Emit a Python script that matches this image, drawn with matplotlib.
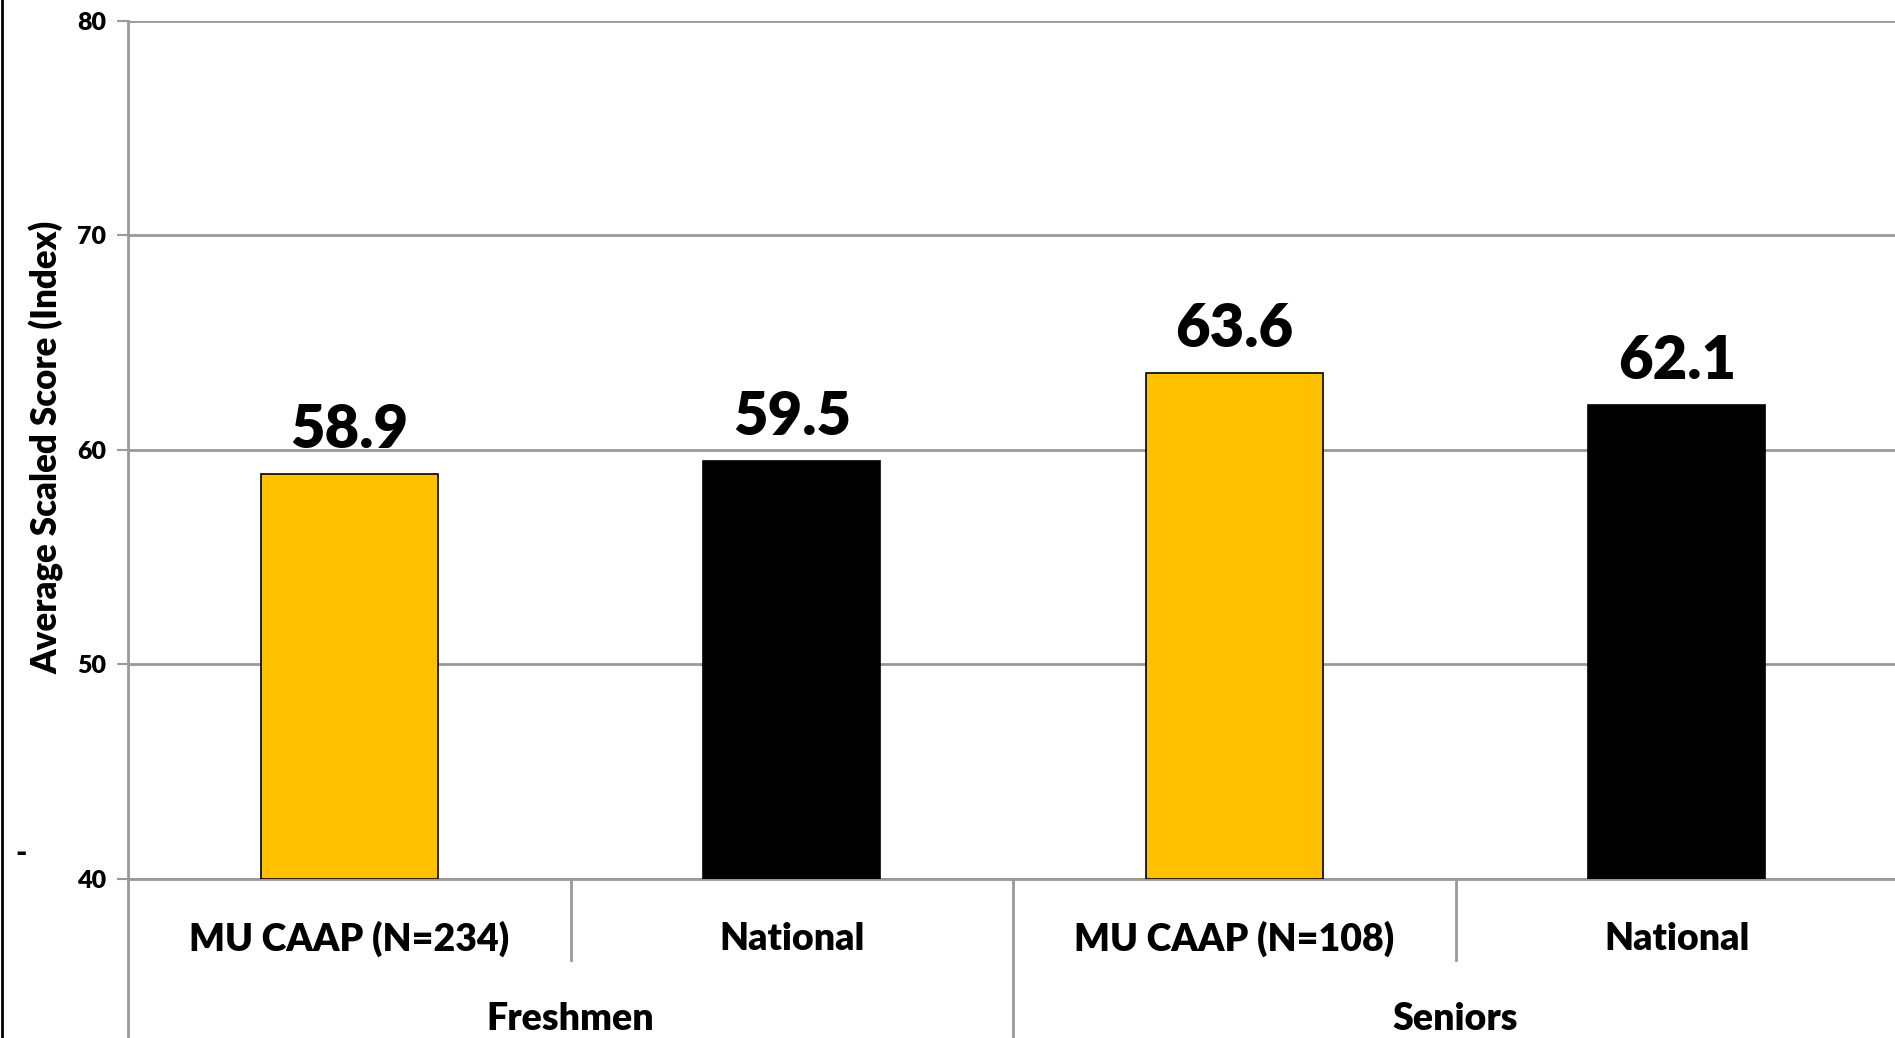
import matplotlib
matplotlib.use("Agg")
import matplotlib.pyplot as plt
from matplotlib.transforms import blended_transform_factory
from matplotlib.lines import Line2D

categories = ["MU CAAP (N=234)", "National", "MU CAAP (N=108)", "National"]
groups = ["Freshmen", "Seniors"]
values = [58.9, 59.5, 63.6, 62.1]
colors = ["#FFC000", "#000000", "#FFC000", "#000000"]
yticks = [40, 50, 60, 70, 80]

plt.rcParams['font.family'] = ['Lato', 'DejaVu Sans']
plt.rcParams['font.weight'] = 'bold'

W, H = 1895, 1038
fig = plt.figure(figsize=(W/100, H/100), dpi=100)
ax = fig.add_axes([128/W, 1-879/H, 1770/W, 858/H])

x = list(range(len(categories)))
bars = ax.bar(x, [v - 40 for v in values], bottom=40, width=0.4, color=colors,
              edgecolor='black', linewidth=1.2, zorder=3)
for xi, v in zip(x, values):
    ax.text(xi, v + 0.75, f"{v}", ha='center', va='bottom', fontsize=43,
            fontweight='heavy', color='black', zorder=4)

ax.set_xlim(-0.5, 3.5)
ax.set_ylim(40, 80)
ax.set_yticks(yticks)
ax.set_yticklabels([str(t) for t in yticks], fontsize=18, fontweight='heavy')
ax.tick_params(axis='y', length=8, width=1.5, color='#999999', pad=8)
ax.set_xticks([])
ax.grid(axis='y', color='#999999', linewidth=2, zorder=0)
for s in ['top', 'right']:
    ax.spines[s].set_visible(False)
for s in ['left', 'bottom']:
    ax.spines[s].set_color('#999999')
    ax.spines[s].set_linewidth(2)

ax.set_ylabel("Average Scaled Score (Index)", fontsize=25, fontweight='heavy', labelpad=20)
ax.yaxis.set_label_coords(-(128-64)/1770, (879-447)/858)

tr = blended_transform_factory(ax.transData, ax.transAxes)
y_cat = (879-939)/858
y_grp = (879-1019)/858
y_short = (879-960)/858
y_bot = (879-1045)/858
for xi, c in zip(x, categories):
    ax.text(xi, y_cat, c, transform=tr, ha='center', va='center', fontsize=27, fontweight='heavy')
for gi, g in enumerate(groups):
    ax.text(gi*2 + 0.5, y_grp, g, transform=tr, ha='center', va='center', fontsize=27, fontweight='heavy')
for xb, yend in [(-0.5, y_bot), (0.5, y_short), (1.5, y_bot), (2.5, y_short)]:
    ax.add_line(Line2D([xb, xb], [0, yend], transform=tr, color='#999999', linewidth=2, clip_on=False))

fig.text(21/W, 1-853/H, "-", ha='center', va='center', fontsize=22, fontweight='heavy')
fig.add_artist(Line2D([1.5/W, 1.5/W], [0, 1], transform=fig.transFigure, color='black', linewidth=2))

fig.savefig("out.png", dpi=100, facecolor='white')
